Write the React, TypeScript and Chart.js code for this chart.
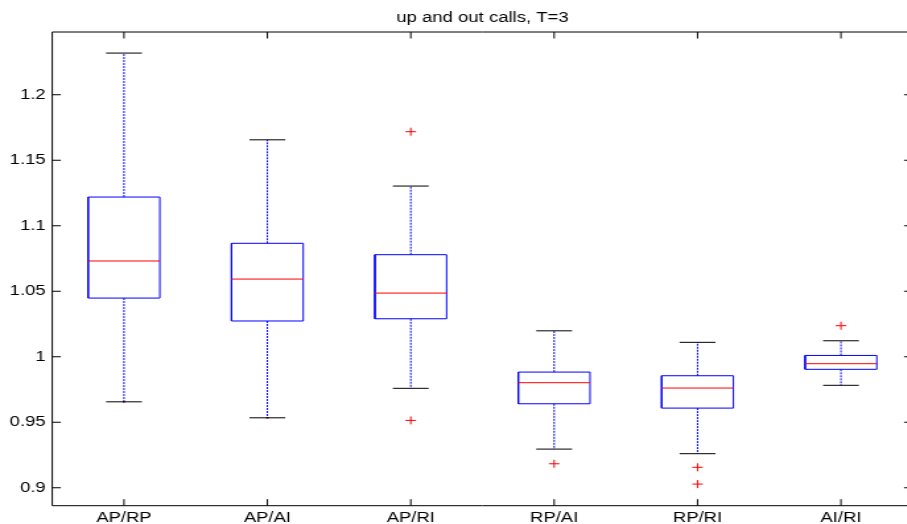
import React, { useEffect, useRef } from 'react';
import { Chart, registerables } from 'chart.js';

Chart.register(...registerables);

const TITLE = 'up and out calls, T=3';
const categories = ['AP/RP', 'AP/AI', 'AP/RI', 'RP/AI', 'RP/RI', 'AI/RI'];
const whiskerHigh = [1.2318, 1.1656, 1.1303, 1.0198, 1.011, 1.0122];
const q3 = [1.1219, 1.0866, 1.0779, 0.9883, 0.9855, 1.001];
const median = [1.0731, 1.0593, 1.0486, 0.9802, 0.9761, 0.9947];
const q1 = [1.0448, 1.0273, 1.029, 0.9641, 0.9608, 0.9904];
const whiskerLow = [0.9656, 0.9534, 0.9759, 0.9295, 0.926, 0.9782];
const outliers: number[][] = [[], [], [1.1718, 0.9514], [0.9183], [0.9156, 0.9028], [1.0237]];
const lowMarkers: number[][] = [[0.9656], [0.9534], [], [], [], []];
const yTicks = [0.9, 0.95, 1, 1.05, 1.1, 1.15, 1.2];
const Y_MIN = 0.8863;
const Y_MAX = 1.2479;

const BOX_HALF = 0.25;
const CAP_HALF = 0.125;
const STRETCH = 1.32;
const FONT = "'Liberation Sans', Arial, Helvetica, sans-serif";

type P = { x: number; y: number | null };

function buildData() {
  const whiskers: P[] = [];
  const caps: P[] = [];
  const boxes: P[] = [];
  const medians: P[] = [];
  const outs: P[] = [];
  const marks: P[] = [];
  categories.forEach((_, i) => {
    const x = i + 1;
    whiskers.push({ x, y: q3[i] }, { x, y: whiskerHigh[i] }, { x, y: null });
    whiskers.push({ x, y: q1[i] }, { x, y: whiskerLow[i] }, { x, y: null });
    caps.push({ x: x - CAP_HALF, y: whiskerHigh[i] }, { x: x + CAP_HALF, y: whiskerHigh[i] }, { x, y: null });
    caps.push({ x: x - CAP_HALF, y: whiskerLow[i] }, { x: x + CAP_HALF, y: whiskerLow[i] }, { x, y: null });
    boxes.push(
      { x: x - BOX_HALF, y: q1[i] },
      { x: x + BOX_HALF, y: q1[i] },
      { x: x + BOX_HALF, y: q3[i] },
      { x: x - BOX_HALF, y: q3[i] },
      { x: x - BOX_HALF, y: q1[i] },
      { x, y: null }
    );
    medians.push({ x: x - BOX_HALF, y: median[i] }, { x: x + BOX_HALF, y: median[i] }, { x, y: null });
    outliers[i].forEach((v) => outs.push({ x, y: v }));
    lowMarkers[i].forEach((v) => marks.push({ x, y: v }));
  });
  return { whiskers, caps, boxes, medians, outs, marks };
}

const framePlugin = {
  id: 'matlabFrame',
  afterDatasetsDraw(chart: any) {
    const { ctx, chartArea } = chart;
    const { left, right, top, bottom } = chartArea;
    const xs = chart.scales.x;
    const ys = chart.scales.y;
    const tl = 6.5;
    ctx.save();
    ctx.strokeStyle = '#000';
    ctx.lineWidth = 1;
    ctx.beginPath();
    ctx.rect(left, top, right - left, bottom - top);
    ctx.stroke();
    ctx.beginPath();
    ys.ticks.forEach((t: any) => {
      const py = ys.getPixelForValue(t.value);
      ctx.moveTo(left, py);
      ctx.lineTo(left + tl, py);
      ctx.moveTo(right, py);
      ctx.lineTo(right - tl, py);
    });
    xs.ticks.forEach((t: any) => {
      const px = xs.getPixelForValue(t.value);
      ctx.moveTo(px, top);
      ctx.lineTo(px, top + tl);
      ctx.moveTo(px, bottom);
      ctx.lineTo(px, bottom - tl);
    });
    ctx.stroke();
    ctx.restore();
  },
};

export default function App() {
  const ref = useRef<HTMLCanvasElement | null>(null);

  useEffect(() => {
    if (!ref.current) return;
    const d = buildData();
    const lineDs = (label: string, data: P[], color: string, dash: number[] = []) => ({
      type: 'scatter' as const,
      label,
      data,
      showLine: true,
      spanGaps: false,
      borderColor: color,
      borderWidth: 1,
      borderDash: dash,
      pointRadius: 0,
      pointHoverRadius: 0,
      fill: false,
    });
    const chart = new Chart(ref.current, {
      type: 'scatter',
      data: {
        datasets: [
          lineDs('median', d.medians, '#ff0000'),
          lineDs('box', d.boxes, '#0000ff'),
          lineDs('cap', d.caps, '#000000'),
          lineDs('whisker', d.whiskers, '#0000ff', [2, 1]),
          {
            type: 'scatter',
            label: 'outliers',
            data: d.outs,
            pointStyle: 'cross',
            pointRadius: 4,
            pointBorderColor: '#ff0000',
            pointBorderWidth: 1,
            borderColor: '#ff0000',
            showLine: false,
          },
          {
            type: 'scatter',
            label: 'marks',
            data: d.marks,
            pointStyle: 'rect',
            pointRadius: 1.2,
            pointBackgroundColor: '#ff0000',
            pointBorderColor: '#ff0000',
            pointBorderWidth: 0,
            showLine: false,
          },
        ] as any,
      },
      options: {
        responsive: false,
        animation: false,
        devicePixelRatio: 1,
        layout: { padding: { left: 0, right: 8.6, top: 0, bottom: 0 } },
        plugins: {
          legend: { display: false },
          tooltip: { enabled: false },
          title: {
            display: true,
            text: TITLE,
            fullSize: false,
            color: '#000',
            font: { family: FONT, size: 14, weight: 'normal', lineHeight: 1.2 },
            padding: { top: 10, bottom: 5.2 },
          },
        },
        scales: {
          x: {
            type: 'linear',
            min: 0.5,
            max: 6.5,
            grid: { display: false, drawTicks: false },
            border: { display: false },
            afterBuildTicks: (s: any) => {
              s.ticks = categories.map((_, i) => ({ value: i + 1 }));
            },
            afterFit: (s: any) => {
              s.height = 18.3;
            },
            ticks: {
              color: '#000',
              padding: 4,
              maxRotation: 0,
              autoSkip: false,
              font: { family: FONT, size: 14 },
              callback: (v: any) => categories[Math.round(Number(v)) - 1] ?? '',
            },
          },
          y: {
            type: 'linear',
            min: Y_MIN,
            max: Y_MAX,
            grid: { display: false, drawTicks: false },
            border: { display: false },
            afterBuildTicks: (s: any) => {
              s.ticks = yTicks.map((v) => ({ value: v }));
            },
            afterFit: (s: any) => {
              s.width = 39.6;
            },
            ticks: {
              color: '#000',
              padding: 5,
              autoSkip: false,
              font: { family: FONT, size: 14 },
              callback: (v: any) => String(Number(Number(v).toFixed(2))),
            },
          },
        },
      },
      plugins: [framePlugin],
    } as any);
    return () => chart.destroy();
  }, []);

  return (
    <div
      style={{
        position: 'fixed',
        left: 0,
        top: 0,
        width: 907,
        height: 524,
        overflow: 'hidden',
        background: '#fff',
      }}
    >
      <canvas
        ref={ref}
        width={700}
        height={524}
        style={{
          width: 700,
          height: 524,
          display: 'block',
          transform: `scaleX(${STRETCH})`,
          transformOrigin: '0 0',
        }}
      />
    </div>
  );
}
